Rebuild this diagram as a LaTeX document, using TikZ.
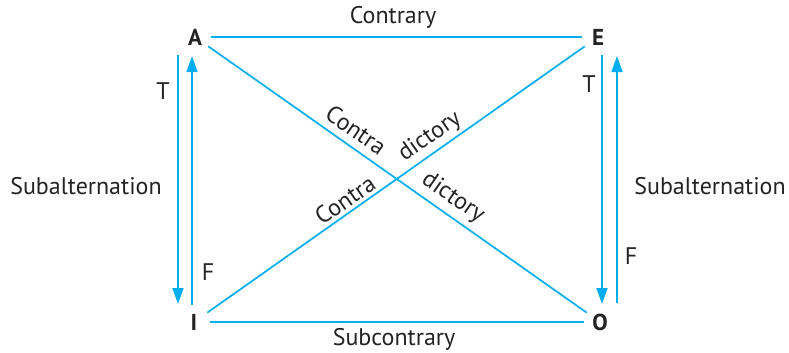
\documentclass[tikz,border=0pt]{standalone}
\usepackage{fontspec}
\setmainfont{PT Sans}
\usetikzlibrary{arrows.meta}
\definecolor{lc}{RGB}{0,174,239}
\definecolor{tc}{RGB}{35,35,35}
\begin{document}
\begin{tikzpicture}[x=1pt,y=-1pt,
  lbl/.style={font=\fontsize{24}{26}\selectfont, text=tc, inner sep=0pt},
  corner/.style={circle, minimum size=32pt, inner sep=0pt, font=\fontsize{23}{26}\selectfont\bfseries, text=tc},
  ln/.style={draw=lc, line width=1.7pt},
  arr/.style={ln, -{Triangle[length=16pt,width=11pt]}}]
\useasboundingbox (0,0) rectangle (789,353);
\node[corner] (A) at (195,37) {A};
\node[corner] (E) at (598,37) {E};
\node[corner] (I) at (194,322) {I};
\node[corner] (O) at (600,322) {O};
\draw[ln] (A) -- (E);
\draw[ln] (I) -- (O);
\draw[ln] (A) -- (O);
\draw[ln] (I) -- (E);
\coordinate (l1s) at (178,55); \coordinate (l1e) at (178,304);
\coordinate (l2s) at (192,305); \coordinate (l2e) at (192,56);
\coordinate (r1s) at (602,55); \coordinate (r1e) at (602,304);
\coordinate (r2s) at (617,303); \coordinate (r2e) at (617,56);
\draw[arr] (l1s) -- (l1e);
\draw[arr] (l2s) -- (l2e);
\draw[arr] (r1s) -- (r1e);
\draw[arr] (r2s) -- (r2e);
\node[lbl] (t1) at (163,91) {T};
\node[lbl] (f1) at (208,272) {F};
\node[lbl] (t2) at (589,84) {T};
\node[lbl] (f2) at (631,256) {F};
\node[lbl] (sl) at (86,186) {Subalternation};
\node[lbl] (sr) at (710,186) {Subalternation};
\node[lbl] (ct) at (393,17) {Contrary};
\node[lbl] (sc) at (394,339) {Subcontrary};
\node[lbl, rotate=-34.7] (c1) at (356,130) {Contra};
\node[lbl, rotate=34.7] (d1) at (430,137) {dictory};
\node[lbl, rotate=34.7] (c2) at (345,200) {Contra};
\node[lbl, rotate=-34.7] (d2) at (453,198) {dictory};
\end{tikzpicture}
\end{document}
